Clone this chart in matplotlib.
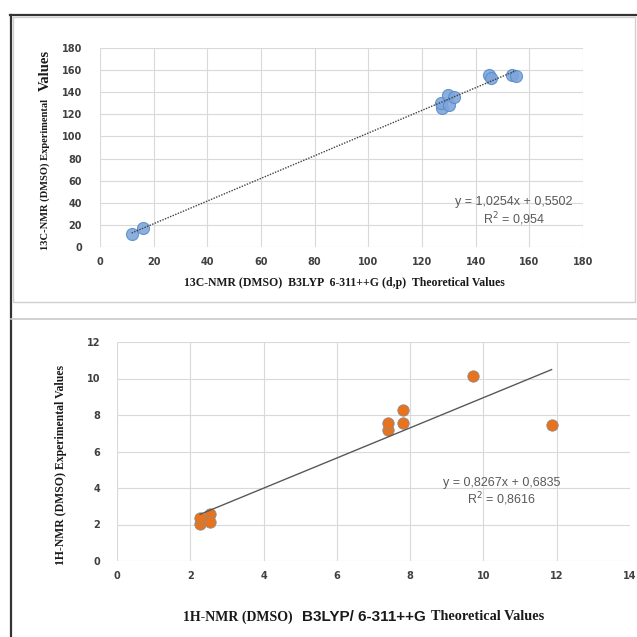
import numpy as np
import matplotlib
matplotlib.use("Agg")
from matplotlib import pyplot as plt
from matplotlib.lines import Line2D
from matplotlib.patches import Rectangle

# 13C data (theoretical vs experimental)
c13_theo = [11.8, 16.2, 127.4, 127.1, 129.7, 130.0, 131.9, 144.8, 145.9, 153.5, 155.0]
c13_exp = [12.0, 17.2, 125.8, 130.3, 137.9, 128.0, 135.5, 155.9, 152.9, 156.0, 155.0]
c13_slope, c13_icpt = 1.0254, 0.5502
c13_eq = "y = 1,0254x + 0,5502"
c13_r2 = "R$^{2}$ = 0,954"

# 1H data
h1_theo = [2.27, 2.27, 2.55, 2.55, 7.39, 7.39, 7.80, 7.80, 9.71, 11.86]
h1_exp = [2.04, 2.36, 2.55, 2.16, 7.18, 7.55, 7.58, 8.29, 10.16, 7.44]
h1_slope, h1_icpt = 0.8267, 0.6835
h1_eq = "y = 0,8267x + 0,6835"
h1_r2 = "R$^{2}$ = 0,8616"

c13_xticks = list(range(0, 181, 20))
c13_yticks = list(range(0, 181, 20))
h1_xticks = list(range(0, 15, 2))
h1_yticks = list(range(0, 13, 2))

W = 637.0
def fx(px):
    return px / W
def fy(py):
    return 1 - py / W

fig = plt.figure(figsize=(6.37, 6.37), dpi=100)
fig.patch.set_facecolor("white")

grid_col = "#d9d9d9"
tick_col = "#404040"
txt_col = "#1a1a1a"

def style(ax):
    for s in ax.spines.values():
        s.set_visible(False)
    ax.grid(True, color=grid_col, lw=0.8)
    ax.set_axisbelow(True)
    ax.tick_params(length=0, labelsize=7, labelcolor=tick_col)
    for lab in ax.get_xticklabels() + ax.get_yticklabels():
        lab.set_fontweight("bold")

# ---- top panel
ax1 = fig.add_axes([fx(100), fy(247), fx(583) - fx(100), fy(48) - fy(247)])
ax1.set_xlim(0, 180)
ax1.set_ylim(0, 180)
ax1.set_xticks(c13_xticks)
ax1.set_yticks(c13_yticks)
ax1.tick_params(axis="y", pad=13)
ax1.tick_params(axis="x", pad=7)
style(ax1)
xl = np.array([min(c13_theo), max(c13_theo)])
ax1.plot(xl, c13_slope * xl + c13_icpt, ls=(0, (1, 1)), color="#404040", lw=1.0, zorder=3)
ax1.scatter(c13_theo, c13_exp, s=75, color="#7ea6dc", edgecolors="#5b8cc8", linewidths=0.8, alpha=0.9, zorder=2)
ax1.text(154.3, 35.0, c13_eq, ha="center", va="bottom", fontsize=9, color="#595959", family="Liberation Sans")
ax1.text(154.3, 33.0, c13_r2, ha="center", va="top", fontsize=9, color="#595959", family="Liberation Sans")

fig.text(fx(45), fy(250), "13C-NMR (DMSO) Experimental", rotation=90, ha="center", va="bottom",
         fontsize=7.6, fontweight="bold", family="Liberation Serif", color=txt_col)
fig.text(fx(45), fy(50), "Values", rotation=90, ha="center", va="top",
         fontsize=10.5, fontweight="bold", family="Liberation Serif", color=txt_col)
fig.text(fx(344), fy(283), "13C-NMR (DMSO)  B3LYP  6-311++G (d,p)  Theoretical Values",
         ha="center", va="center", fontsize=8.5, fontweight="bold", family="Liberation Serif", color=txt_col)

# ---- bottom panel
ax2 = fig.add_axes([fx(117), fy(561), fx(630) - fx(117), fy(342) - fy(561)])
ax2.set_xlim(0, 14)
ax2.set_ylim(0, 12)
ax2.set_xticks(h1_xticks)
ax2.set_yticks(h1_yticks)
ax2.tick_params(axis="y", pad=12)
ax2.tick_params(axis="x", pad=7)
style(ax2)
xl = np.array([min(h1_theo), max(h1_theo)])
ax2.plot(xl, h1_slope * xl + h1_icpt, color="#595959", lw=1.0, zorder=3)
ax2.scatter(h1_theo, h1_exp, s=67, color="#e8731c", edgecolors="#8c8c8c", linewidths=0.6, zorder=2)
ax2.text(10.5, 3.95, h1_eq, ha="center", va="bottom", fontsize=9, color="#595959", family="Liberation Sans")
ax2.text(10.5, 3.85, h1_r2, ha="center", va="top", fontsize=9, color="#595959", family="Liberation Sans")

fig.text(fx(61), fy(465), "1H-NMR (DMSO) Experimental Values", rotation=90, ha="center", va="center",
         fontsize=8.5, fontweight="bold", family="Liberation Serif", color=txt_col)
fig.text(fx(183), fy(617), "1H-NMR (DMSO)", ha="left", va="center", fontsize=10,
         fontweight="bold", family="Liberation Serif", color=txt_col)
fig.text(fx(302), fy(617), "B3LYP/ 6-311++G", ha="left", va="center", fontsize=11,
         fontweight="bold", family="Liberation Sans", color=txt_col)
fig.text(fx(431), fy(617), "Theoretical Values", ha="left", va="center", fontsize=10.3,
         fontweight="bold", family="Liberation Serif", color=txt_col)

# ---- frames
fig.add_artist(Rectangle((fx(13), fy(302)), fx(635) - fx(13), fy(17) - fy(302), transform=fig.transFigure,
                         fill=False, edgecolor="#d0d0d0", lw=1.0))
fig.add_artist(Line2D([fx(10), 1], [fy(15), fy(15)], transform=fig.transFigure, color="#333333", lw=1.6))
fig.add_artist(Line2D([fx(11), fx(11)], [fy(15), 0], transform=fig.transFigure, color="#333333", lw=1.6))
fig.add_artist(Line2D([fx(11), 1], [fy(319), fy(319)], transform=fig.transFigure, color="#c8c8c8", lw=1.2))

fig.savefig("out.png", dpi=100)
